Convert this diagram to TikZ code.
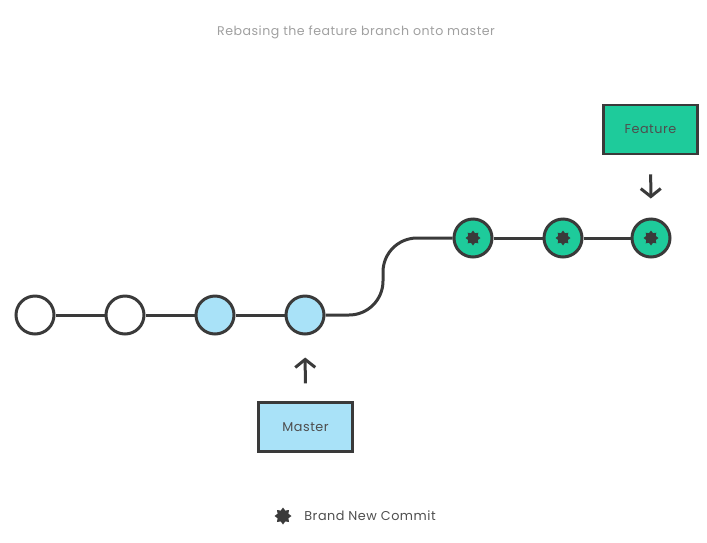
\documentclass[tikz,border=0pt]{standalone}
\usepackage{fontspec}
\setmainfont{Poppins}[LetterSpace=4]
\usetikzlibrary{arrows.meta,positioning,shapes.geometric}
\definecolor{lineD}{HTML}{3A3A3A}
\definecolor{featG}{HTML}{1ECB9B}
\definecolor{mastB}{HTML}{A9E2F8}
\definecolor{titreG}{HTML}{A0A0A0}
\tikzset{
  commit/.style={circle, draw=lineD, line width=3pt, fill=#1, minimum size=38pt, inner sep=0pt},
  etoile/.style={star, star points=8, star point ratio=1.45, fill=lineD, draw=none,
                 minimum size=15pt, inner sep=0pt},
  neuf/.style={commit=featG, label={[etoile]center:}},
  branche/.style={rectangle, draw=lineD, line width=2.5pt, fill=#1, minimum width=94pt,
                  minimum height=49pt, font=\fontsize{12.8}{14}\selectfont, text=lineD!90},
  lien/.style={line width=3pt, draw=lineD},
  fleche/.style={-{Straight Barb[length=8pt,width=20pt,line width=3pt]}, line width=3pt, draw=lineD},
}
\begin{document}
\begin{tikzpicture}[x=1pt,y=-1pt]
  \useasboundingbox (0,0) rectangle (707,542);
  \node[font=\fontsize{12.6}{14}\selectfont, text=titreG] (titre) at (356,32)
    {Rebasing the feature branch onto master};
  % master
  \node[commit=white] (c1) at (35,315) {};
  \node[commit=white] (c2) at (125,315) {};
  \node[commit=mastB] (c3) at (215,315) {};
  \node[commit=mastB] (c4) at (305,315) {};
  % feature, rebased
  \node[neuf] (f1) at (473,238) {};
  \node[neuf] (f2) at (563,238) {};
  \node[neuf] (f3) at (651,238) {};
  \coordinate (bas) at (383,315);
  \coordinate (haut) at (383,238);
  \draw[lien] (c1) -- (c2);
  \draw[lien] (c2) -- (c3);
  \draw[lien] (c3) -- (c4);
  \draw[lien, rounded corners=34pt] (c4) -- (bas) -- (haut) -- (f1);
  \draw[lien] (f1) -- (f2);
  \draw[lien] (f2) -- (f3);
  % labels
  \node[branche=featG] (feature) at (650.5,129.5) {Feature};
  \node[branche=mastB] (master) at (305.5,427) {Master};
  \draw[fleche, shorten <=19pt, shorten >=19pt] (feature) -- (f3);
  \draw[fleche, shorten <=18pt, shorten >=22pt] (master) -- (c4);
  % legend
  \node[etoile, minimum size=17pt] (leg) at (283,516) {};
  \node[right=9pt of leg, font=\fontsize{12.8}{14}\selectfont, text=lineD!90] (legtxt) {Brand New Commit};
\end{tikzpicture}
\end{document}
